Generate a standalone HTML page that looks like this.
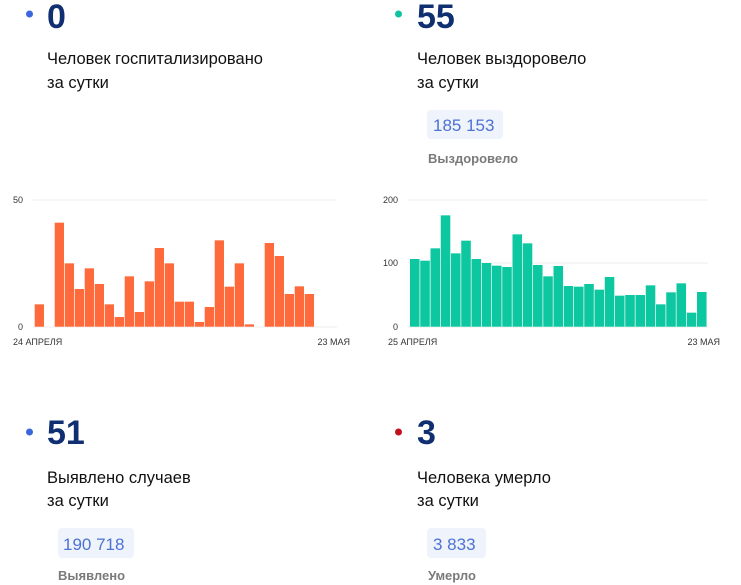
<!DOCTYPE html>
<html><head><meta charset="utf-8"><style>
html,body{margin:0;padding:0;background:#fff;width:741px;height:585px;overflow:hidden}
svg{display:block}
.big{font-family:"Liberation Sans",sans-serif;font-weight:bold;font-size:34px;fill:#0f2f70}
.lbl{font-family:"Liberation Sans",sans-serif;font-size:16.5px;fill:#111}
.pill{font-family:"Liberation Sans",sans-serif;font-size:17px;fill:#4d72d2}
.sub{font-family:"Liberation Sans",sans-serif;font-size:13px;font-weight:bold;fill:#7a7a7a}
.ax{font-family:"Liberation Sans",sans-serif;font-size:9px;fill:#333}
</style></head><body>
<svg width="741" height="585" xmlns="http://www.w3.org/2000/svg">
<circle cx="29.5" cy="14" r="3.5" fill="#3a66e0"/>
<text x="47" y="28" class="big">0</text>
<text x="47" y="64" class="lbl">Человек госпитализировано</text>
<text x="47" y="88" class="lbl">за сутки</text>
<circle cx="398.5" cy="14" r="3.5" fill="#10c3a0"/>
<text x="417" y="28" class="big">55</text>
<text x="417" y="64" class="lbl">Человек выздоровело</text>
<text x="417" y="88" class="lbl">за сутки</text>
<rect x="427" y="110" width="76" height="29" rx="4" fill="#eef3fc"/>
<text x="433" y="131" class="pill">185 153</text>
<text x="428" y="163" class="sub">Выздоровело</text>
<line x1="33" y1="200" x2="337" y2="200" stroke="#eee"/>
<line x1="33" y1="327" x2="337" y2="327" stroke="#eee"/>
<text x="13" y="203" class="ax">50</text>
<text x="18" y="330" class="ax">0</text>
<text x="13" y="345" class="ax">24 АПРЕЛЯ</text>
<text x="350" y="345" class="ax" text-anchor="end">23 МАЯ</text>
<g fill="#ff6a3d" id="lb"></g>
<line x1="408" y1="200" x2="708" y2="200" stroke="#eee"/>
<line x1="408" y1="263" x2="708" y2="263" stroke="#eee"/>
<line x1="408" y1="327" x2="708" y2="327" stroke="#eee"/>
<text x="383" y="203" class="ax">200</text>
<text x="383" y="266" class="ax">100</text>
<text x="393" y="330" class="ax">0</text>
<text x="388" y="345" class="ax">25 АПРЕЛЯ</text>
<text x="720" y="345" class="ax" text-anchor="end">23 МАЯ</text>
<g fill="#0cc79f" id="rb"></g>
<circle cx="29.5" cy="432" r="3.5" fill="#3a66e0"/>
<text x="47" y="444" class="big">51</text>
<text x="47" y="483" class="lbl">Выявлено случаев</text>
<text x="47" y="506" class="lbl">за сутки</text>
<rect x="58" y="528" width="76" height="30" rx="4" fill="#eef3fc"/>
<text x="63" y="550" class="pill">190 718</text>
<text x="58" y="580" class="sub">Выявлено</text>
<circle cx="398.5" cy="432" r="3.5" fill="#c4101c"/>
<text x="417" y="444" class="big">3</text>
<text x="417" y="483" class="lbl">Человека умерло</text>
<text x="417" y="506" class="lbl">за сутки</text>
<rect x="427" y="528" width="59" height="30" rx="4" fill="#eef3fc"/>
<text x="433" y="550" class="pill">3 833</text>
<text x="428" y="580" class="sub">Умерло</text>
</svg>
<script>
var ns="http://www.w3.org/2000/svg";
var L=[343,null,98,220,297,235,282,343,381,259,366,274,174,220,335,335,396,351,151,290,220,403,null,159,198,312,289,312];
var g=document.getElementById("lb");
L.forEach(function(t,i){if(t===null)return;var y=190+t/3;var r=document.createElementNS(ns,"rect");
r.setAttribute("x",34.7+i*10);r.setAttribute("y",y);r.setAttribute("width",9.3);r.setAttribute("height",326.7-y);g.appendChild(r);});
var R=[207,212,175,76,190,152,207,219,227,231,133,160,225,259,228,288,290,282,299,261,317,315,315,286,343,307,280,368,306];
var h=document.getElementById("rb");
R.forEach(function(t,i){var y=190+t/3;var r=document.createElementNS(ns,"rect");
r.setAttribute("x",410+i*10.25);r.setAttribute("y",y);r.setAttribute("width",9.55);r.setAttribute("height",326.7-y);h.appendChild(r);});
</script>
</body></html>
